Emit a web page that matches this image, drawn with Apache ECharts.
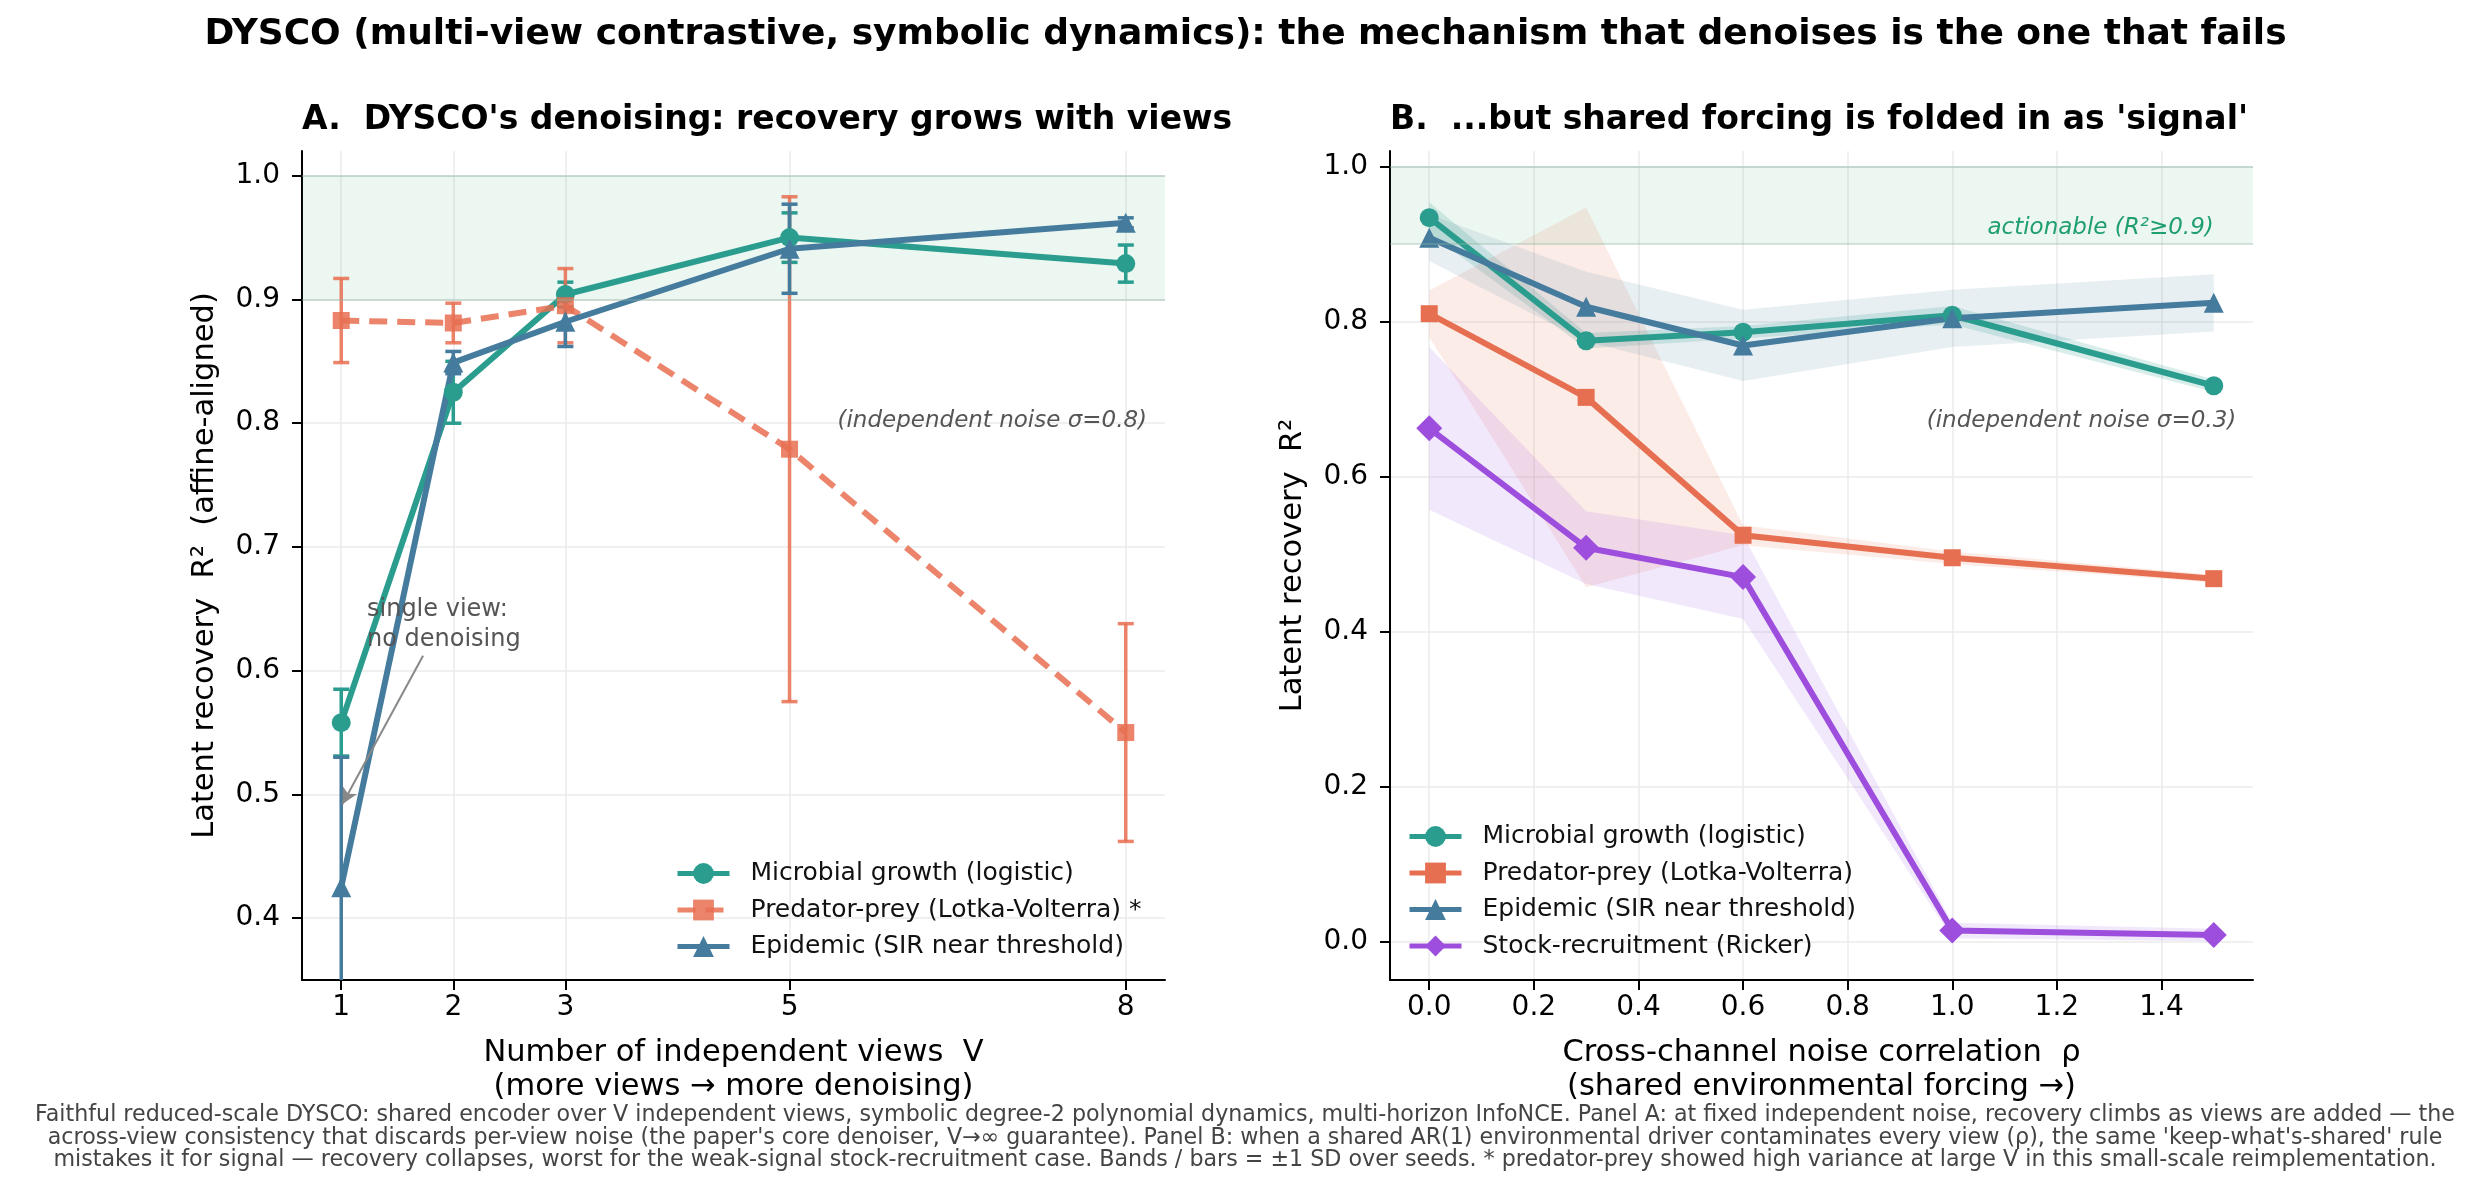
<!DOCTYPE html>
<html>
<head>
<meta charset="utf-8">
<script src="https://cdn.jsdelivr.net/npm/echarts@6/dist/echarts.min.js"></script>
<style>
  html, body { margin: 0; padding: 0; background: #fff; }
  #chart { width: 2491px; height: 1192px; }
</style>
</head>
<body>
<div id="chart"></div>
<script>
// ---- panel A: recovery vs number of views (sigma = 0.8) ----
const views = [1, 2, 3, 5, 8];
const viewTicks = [1, 2, 3, 5, 8];
const microbialA = [0.558, 0.825, 0.904, 0.950, 0.929];
const microbialA_sd = [0.027, 0.025, 0.010, 0.020, 0.015];
const predatorA = [0.883, 0.881, 0.895, 0.779, 0.550];
const predatorA_sd = [0.034, 0.016, 0.030, 0.204, 0.088];
const epidemicA = [0.425, 0.849, 0.882, 0.941, 0.962];
const epidemicA_sd = [0.105, 0.009, 0.020, 0.036, 0.004];
const yTicksA = [0.4, 0.5, 0.6, 0.7, 0.8, 0.9, 1.0];

// ---- panel B: recovery vs cross-channel noise correlation (sigma = 0.3) ----
const rho = [0.0, 0.3, 0.6, 1.0, 1.5];
const rhoTicks = [0.0, 0.2, 0.4, 0.6, 0.8, 1.0, 1.2, 1.4];
const microbialB = [0.934, 0.775, 0.786, 0.808, 0.717];
const microbialB_sd = [0.020, 0.010, 0.008, 0.012, 0.008];
const predatorB = [0.810, 0.702, 0.524, 0.495, 0.468];
const predatorB_sd = [0.030, 0.245, 0.013, 0.008, 0.005];
const epidemicB = [0.908, 0.819, 0.769, 0.804, 0.824];
const epidemicB_sd = [0.030, 0.045, 0.046, 0.037, 0.037];
const stockB = [0.662, 0.508, 0.470, 0.014, 0.008];
const stockB_sd = [0.105, 0.047, 0.054, 0.010, 0.008];
const yTicksB = [0.0, 0.2, 0.4, 0.6, 0.8, 1.0];

const actionable = [0.9, 1.0];   // R² band

const names = {
  microbial: 'Microbial growth (logistic)',
  predatorA: 'Predator-prey (Lotka-Volterra) *',
  predator: 'Predator-prey (Lotka-Volterra)',
  epidemic: 'Epidemic (SIR near threshold)',
  stock: 'Stock-recruitment (Ricker)'
};

const FONT = 'DejaVu Sans';
const teal = '#2a9d8f', orange = '#e76f51', blue = '#457b9d', purple = '#9d4edd';

const chart = echarts.init(document.getElementById('chart'));

function pairs(xs, ys) { return xs.map((x, i) => [x, ys[i]]); }
function spans(xs, ys, sds) { return xs.map((x, i) => [x, ys[i] - sds[i], ys[i] + sds[i]]); }

function errorBars(xs, ys, sds, color, opacity) {
  return {
    type: 'custom', xAxisIndex: 0, yAxisIndex: 0, clip: true, silent: true, z: 2,
    data: spans(xs, ys, sds),
    encode: { x: 0, y: [1, 2] },
    renderItem: function (params, api) {
      const x = api.value(0);
      const lo = api.coord([x, api.value(1)]);
      const hi = api.coord([x, api.value(2)]);
      const c = 8;
      const st = { stroke: color, lineWidth: 3.5, opacity: opacity };
      return {
        type: 'group', children: [
          { type: 'line', shape: { x1: lo[0], y1: lo[1], x2: hi[0], y2: hi[1] }, style: st },
          { type: 'line', shape: { x1: lo[0] - c, y1: lo[1], x2: lo[0] + c, y2: lo[1] }, style: st },
          { type: 'line', shape: { x1: hi[0] - c, y1: hi[1], x2: hi[0] + c, y2: hi[1] }, style: st }
        ]
      };
    }
  };
}

function band(xs, ys, sds, fill) {
  return {
    type: 'custom', xAxisIndex: 1, yAxisIndex: 1, silent: true, z: 1,
    data: spans(xs, ys, sds),
    encode: { x: 0, y: [1, 2] },
    renderItem: function (params, api) {
      if (params.dataIndexInside !== 0) return;
      const n = params.dataInsideLength;
      const top = [], bot = [];
      for (let i = 0; i < n; i++) {
        top.push(api.coord([api.value(0, i), api.value(2, i)]));
        bot.push(api.coord([api.value(0, i), api.value(1, i)]));
      }
      return { type: 'polygon', shape: { points: top.concat(bot.reverse()) }, style: { fill: fill } };
    }
  };
}

function line(name, xs, ys, color, symbol, size, idx, extra) {
  return Object.assign({
    name: name, type: 'line', xAxisIndex: idx, yAxisIndex: idx,
    data: pairs(xs, ys),
    symbol: symbol, symbolSize: size, showSymbol: true, showAllSymbol: true,
    lineStyle: { color: color, width: 6 },
    itemStyle: { color: color },
    z: 3, emphasis: { disabled: true }
  }, extra || {});
}

function actionableBand(idx) {
  return {
    type: 'line', xAxisIndex: idx, yAxisIndex: idx, data: [], silent: true, z: 0,
    markArea: {
      silent: true,
      itemStyle: { color: 'rgba(44,162,95,0.09)' },
      data: [[{ yAxis: actionable[0] }, { yAxis: actionable[1] }]]
    },
    markLine: {
      silent: true, symbol: 'none', label: { show: false },
      lineStyle: { color: 'rgba(140,180,160,0.35)', width: 2, type: 'solid' },
      data: [{ yAxis: actionable[0] }, { yAxis: actionable[1] }]
    }
  };
}

function axisBase() {
  return {
    type: 'value',
    nameLocation: 'middle',
    nameMoveOverlap: false,
    nameTextStyle: { fontSize: 30.5, color: '#000', fontFamily: FONT, lineHeight: 34 },
    axisLine: { show: true, onZero: false, lineStyle: { color: '#000', width: 2 } },
    axisTick: { show: true, length: 10, lineStyle: { color: '#000', width: 2 } },
    axisLabel: { fontSize: 28, color: '#000', fontFamily: FONT, formatter: v => v.toFixed(1) },
    splitLine: { show: true, lineStyle: { color: '#ebebeb', width: 1.5 } }
  };
}

function xA() {
  const a = axisBase();
  a.gridIndex = 0; a.min = 0.65; a.max = 8.35;
  a.name = 'Number of independent views  V\n(more views \u2192 more denoising)';
  a.nameGap = 56;
  a.axisTick.customValues = viewTicks;
  a.axisLabel.customValues = viewTicks;
  a.axisLabel.formatter = v => String(v);
  a.axisLabel.margin = 14;
  return a;
}
function yA() {
  const a = axisBase();
  a.gridIndex = 0; a.min = 0.35; a.max = 1.02;
  a.name = 'Latent recovery  R\u00b2  (affine-aligned)';
  a.nameGap = 80;
  a.axisTick.customValues = yTicksA;
  a.axisLabel.customValues = yTicksA;
  a.axisLabel.margin = 22;
  return a;
}
function xB() {
  const a = axisBase();
  a.gridIndex = 1; a.min = -0.075; a.max = 1.575;
  a.name = 'Cross-channel noise correlation  \u03c1\n(shared environmental forcing \u2192)';
  a.nameGap = 56;
  a.axisTick.customValues = rhoTicks;
  a.axisLabel.customValues = rhoTicks;
  a.axisLabel.margin = 14;
  return a;
}
function yB() {
  const a = axisBase();
  a.gridIndex = 1; a.min = -0.05; a.max = 1.02;
  a.name = 'Latent recovery  R\u00b2';
  a.nameGap = 80;
  a.axisTick.customValues = yTicksB;
  a.axisLabel.customValues = yTicksB;
  a.axisLabel.margin = 22;
  return a;
}

const legendBase = {
  orient: 'vertical', padding: 0, itemWidth: 52, itemHeight: 26, itemGap: 11.5,
  selectedMode: false, lineStyle: { width: 5 },
  textStyle: { fontSize: 25, color: '#111', fontFamily: FONT, padding: [0, 0, 0, 16] }
};

const option = {
  animation: false,
  backgroundColor: '#fff',
  textStyle: { fontFamily: FONT },
  title: [
    { text: 'DYSCO (multi-view contrastive, symbolic dynamics): the mechanism that denoises is the one that fails',
      left: 'center', top: 17, padding: 0,
      textStyle: { fontSize: 36, fontWeight: 'bold', color: '#000', fontFamily: FONT } },
    { text: "A.  DYSCO's denoising: recovery grows with views", left: 302, top: 104, padding: 0,
      textStyle: { fontSize: 33, fontWeight: 'bold', color: '#000', fontFamily: FONT } },
    { text: "B.  ...but shared forcing is folded in as 'signal'", left: 1390, top: 104, padding: 0,
      textStyle: { fontSize: 33, fontWeight: 'bold', color: '#000', fontFamily: FONT } }
  ],
  grid: [
    { left: 302, top: 151, width: 863, height: 829, outerBoundsMode: 'none' },
    { left: 1390, top: 151, width: 863, height: 829, outerBoundsMode: 'none' }
  ],
  xAxis: [xA(), xB()],
  yAxis: [yA(), yB()],
  legend: [
    Object.assign({}, legendBase, { data: [names.microbial, names.predatorA, names.epidemic], left: 675, top: 861 }),
    Object.assign({}, legendBase, { data: [names.microbial, names.predator, names.epidemic, names.stock],
      left: 1407, top: 824 })
  ],
  series: [
    actionableBand(0),
    errorBars(views, microbialA, microbialA_sd, teal, 1),
    line(names.microbial, views, microbialA, teal, 'circle', 19, 0),
    errorBars(views, predatorA, predatorA_sd, orange, 0.85),
    line(names.predatorA, views, predatorA, orange, 'rect', 17, 0, {
      lineStyle: { color: orange, width: 6, type: [18, 10], opacity: 0.85 },
      itemStyle: { color: orange, opacity: 0.85 }
    }),
    errorBars(views, epidemicA, epidemicA_sd, blue, 1),
    line(names.epidemic, views, epidemicA, blue, 'triangle', 20, 0),
    {
      type: 'line', xAxisIndex: 0, yAxisIndex: 0, data: [], silent: true, z: 4,
      markLine: {
        silent: true, symbol: ['none', 'arrow'], symbolSize: [12, 16],
        lineStyle: { color: '#888', width: 2, type: 'solid' },
        label: { show: false },
        data: [[{ coord: [1.73, 0.612] }, { coord: [1.01, 0.492] }]]
      }
    },

    actionableBand(1),
    band(rho, microbialB, microbialB_sd, 'rgba(42,157,143,0.18)'),
    band(rho, predatorB, predatorB_sd, 'rgba(231,111,81,0.13)'),
    band(rho, epidemicB, epidemicB_sd, 'rgba(69,123,157,0.12)'),
    band(rho, stockB, stockB_sd, 'rgba(157,78,221,0.13)'),
    line(names.microbial, rho, microbialB, teal, 'circle', 19, 1),
    line(names.predator, rho, predatorB, orange, 'rect', 17, 1),
    line(names.epidemic, rho, epidemicB, blue, 'triangle', 20, 1),
    line(names.stock, rho, stockB, purple, 'diamond', 26, 1)
  ]
};

chart.setOption(option);

// annotations and caption, placed through the axes
const pA = (x, y) => chart.convertToPixel({ gridIndex: 0 }, [x, y]);
const pB = (x, y) => chart.convertToPixel({ gridIndex: 1 }, [x, y]);
const noteA = pA(8.19, 0.802);
const single = pA(1.23, 0.661);
const act = pB(1.5, 0.921);
const noteB = pB(1.543, 0.672);

const caption = [
  "Faithful reduced-scale DYSCO: shared encoder over V independent views, symbolic degree-2 polynomial dynamics, multi-horizon InfoNCE. Panel A: at fixed independent noise, recovery climbs as views are added \u2014 the",
  "across-view consistency that discards per-view noise (the paper's core denoiser, V\u2192\u221e guarantee). Panel B: when a shared AR(1) environmental driver contaminates every view (\u03c1), the same 'keep-what's-shared' rule",
  "mistakes it for signal \u2014 recovery collapses, worst for the weak-signal stock-recruitment case. Bands / bars = \u00b11 SD over seeds. * predator-prey showed high variance at large V in this small-scale reimplementation."
].join('\n');

chart.setOption({
  graphic: [
    { type: 'text', x: noteA[0], y: noteA[1], z: 10, silent: true,
      style: { text: '(independent noise \u03c3=0.8)', fontSize: 23, fontStyle: 'italic', fontFamily: FONT,
               fill: '#555', align: 'right', verticalAlign: 'middle' } },
    { type: 'text', x: single[0], y: single[1], z: 10, silent: true,
      style: { text: 'single view:\nno denoising', fontSize: 24, lineHeight: 30, fontFamily: FONT,
               fill: '#555', align: 'left', verticalAlign: 'top' } },
    { type: 'text', x: act[0], y: act[1], z: 10, silent: true,
      style: { text: 'actionable (R\u00b2\u22650.9)', fontSize: 23, fontStyle: 'italic', fontFamily: FONT,
               fill: '#1f9e6e', align: 'right', verticalAlign: 'middle' } },
    { type: 'text', x: noteB[0], y: noteB[1], z: 10, silent: true,
      style: { text: '(independent noise \u03c3=0.3)', fontSize: 23, fontStyle: 'italic', fontFamily: FONT,
               fill: '#555', align: 'right', verticalAlign: 'middle' } },
    { type: 'text', x: 1245, y: 1104, z: 10, silent: true,
      style: { text: caption, fontSize: 22.2, lineHeight: 22.5, fontFamily: FONT,
               fill: '#444', align: 'center', verticalAlign: 'top' } }
  ]
});
</script>
</body>
</html>
